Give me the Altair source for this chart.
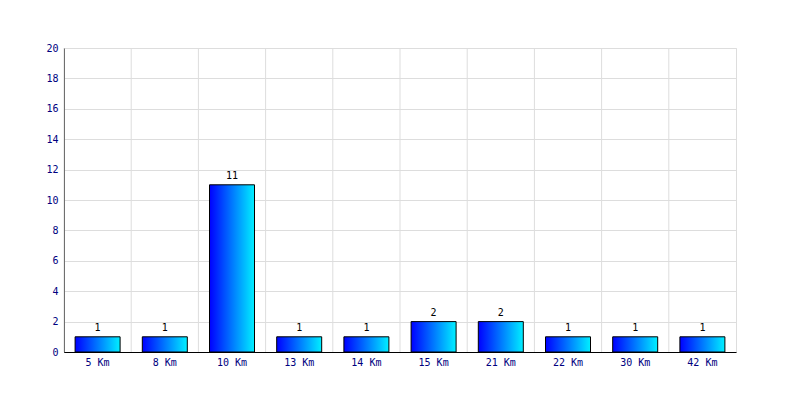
import altair as alt
import pandas as pd

categories = ["5 Km", "8 Km", "10 Km", "13 Km", "14 Km", "15 Km", "21 Km", "22 Km", "30 Km", "42 Km"]
counts = [1, 1, 11, 1, 1, 2, 2, 1, 1, 1]

df = pd.DataFrame({"cat": categories, "n": counts})

FONT = "DejaVu Sans Mono"
NAVY = "#000080"

xscale = alt.Scale(paddingInner=0, paddingOuter=0)
yscale = alt.Scale(domain=[0, 20], nice=False)

xenc = alt.X("cat:N", sort=categories, title=None, scale=xscale,
             axis=alt.Axis(labelAngle=0, grid=False, ticks=False, domain=True,
                           domainColor="black", labelColor=NAVY, labelFont=FONT,
                           labelFontSize=10, labelPadding=5, labelOverlap=False))
yenc = alt.Y("n:Q", title=None, scale=yscale,
             axis=alt.Axis(values=list(range(0, 21, 2)), grid=True, gridColor="#dddddd",
                           ticks=False, domain=True, domainColor="black",
                           labelColor=NAVY, labelFont=FONT, labelFontSize=10,
                           labelPadding=6, labelOverlap=False))

base = alt.Chart(df)

vgrid = base.mark_rule(color="#dddddd", strokeWidth=1).encode(
    x=alt.X("cat:N", sort=categories, bandPosition=0, scale=xscale, axis=None)
)

bars = base.mark_bar(
    size=45,
    stroke="black",
    strokeWidth=1,
    color=alt.Gradient(
        gradient="linear",
        stops=[alt.GradientStop(color="#0000ff", offset=0),
               alt.GradientStop(color="#00f0ff", offset=1)],
        x1=0, x2=1, y1=0, y2=0,
    ),
).encode(x=xenc, y=yenc)

labels = base.mark_text(baseline="bottom", dy=-4, font=FONT, fontSize=10, color="black").encode(
    x=alt.X("cat:N", sort=categories, scale=xscale, axis=None),
    y=alt.Y("n:Q", scale=yscale, axis=None),
    text="n:Q",
)

chart = alt.layer(vgrid, bars, labels).resolve_axis(
    x="independent", y="independent"
).properties(
    width=672, height=304,
    autosize=alt.AutoSizeParams(type="none"),
    padding={"left": 56, "top": 40, "right": 50, "bottom": 40},
).configure_view(stroke="#dddddd", strokeWidth=1).configure(background="white")

chart.save("out.html", embed_options={"renderer": "svg", "actions": False})
